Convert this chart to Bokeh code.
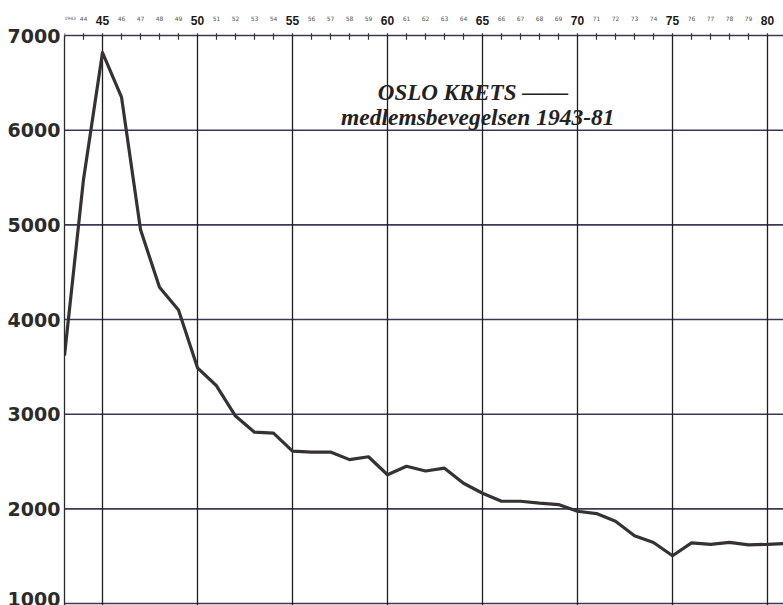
from bokeh.plotting import figure
from bokeh.models import Range1d, FixedTicker
from bokeh.core.properties import value
from bokeh.embed import file_html
from bokeh.resources import INLINE

# ---- data ----
years = list(range(1943, 1982))
members = [3620, 5480, 6820, 6350, 4950, 4340, 4100, 3490, 3300, 2980,
           2810, 2800, 2610, 2600, 2600, 2520, 2550, 2360, 2450, 2400,
           2430, 2270, 2165, 2080, 2080, 2060, 2045, 1975, 1950, 1870,
           1715, 1645, 1505, 1640, 1625, 1645, 1620, 1625, 1635]

major_years = [1945, 1950, 1955, 1960, 1965, 1970, 1975, 1980]
major_labels = ["45", "50", "55", "60", "65", "70", "75", "80"]
minor_years = [y for y in years if y not in major_years]
minor_labels = ["1943"] + [str(y)[2:] for y in minor_years[1:]]

y_ticks = [1000, 2000, 3000, 4000, 5000, 6000, 7000]
h_lines = [1000, 2000, 3000, 4000, 5000, 6000]

title_1 = "OSLO KRETS ——"
title_2 = "medlemsbevegelsen 1943-81"

# ---- layout constants ----
X0, X1 = 1943, 1980.842
Y0, Y1 = 979, 7370
TOP = 7000

p = figure(width=783, height=605, x_range=Range1d(X0, X1), y_range=Range1d(Y0, Y1),
           output_backend="svg", toolbar_location=None,
           x_axis_location=None, y_axis_location="left",
           min_border_left=64, min_border_right=0, min_border_top=0, min_border_bottom=0)
p.outline_line_color = None
p.grid.visible = False
p.background_fill_color = "white"

# left axis
ya = p.yaxis[0]
ya.ticker = FixedTicker(ticks=y_ticks)
ya.bounds = (Y0, TOP)
ya.axis_line_color = "#2a2a2a"
ya.axis_line_width = 1.3
ya.major_tick_out = 0
ya.major_tick_in = 0
ya.minor_tick_out = 0
ya.minor_tick_in = 0
ya.major_label_standoff = 4
ya.major_label_text_font = "DejaVu Sans"
ya.major_label_text_font_style = "bold"
ya.major_label_text_font_size = "19px"
ya.major_label_text_color = "#2b2b2b"

# horizontal grid lines
p.segment(x0=[X0] * len(h_lines), y0=h_lines, x1=[X1] * len(h_lines), y1=h_lines,
          line_color="#3b3855", line_width=1.6)
# top axis line
p.segment(x0=[X0], y0=[TOP], x1=[X1], y1=[TOP], line_color="#3b3855", line_width=1.6)

# vertical lines at every fifth year
p.segment(x0=major_years, y0=[Y0] * len(major_years), x1=major_years, y1=[TOP] * len(major_years),
          line_color="#1e1e1e", line_width=1.3)

# small year ticks on top axis
p.segment(x0=minor_years, y0=[TOP + 25] * len(minor_years), x1=minor_years,
          y1=[TOP - 45] * len(minor_years), line_color="#333333", line_width=1.2)
p.segment(x0=major_years, y0=[TOP + 25] * len(major_years), x1=major_years,
          y1=[TOP] * len(major_years), line_color="#333333", line_width=1.2)

# top labels (first one left-aligned so it stays inside the drawing area)
p.text(x=minor_years[:1], y=[TOP + 180], text=minor_labels[:1],
       text_font=value("DejaVu Sans"), text_font_size="4.5px", text_color="#555555",
       text_align="left", text_baseline="alphabetic")
p.text(x=minor_years[1:], y=[TOP + 180] * (len(minor_years) - 1), text=minor_labels[1:],
       text_font=value("DejaVu Sans"), text_font_size="6px", text_color="#555555",
       text_align="center", text_baseline="alphabetic")
p.text(x=major_years, y=[TOP + 160] * len(major_years), text=major_labels,
       text_font=value("Liberation Sans"), text_font_style="bold", text_font_size="12px",
       text_color="#1a1a1a", text_align="center", text_baseline="alphabetic")

# data line
p.line(years, members, line_color="#363232", line_width=3.2, line_join="round")

# title
p.text(x=[1964.5], y=[6398], text=[title_1], text_font=value("Liberation Serif"),
       text_font_style="bold italic", text_font_size="23px", text_color="#222222",
       text_align="center", text_baseline="alphabetic")
p.text(x=[1964.75], y=[6140], text=[title_2], text_font=value("Liberation Serif"),
       text_font_style="bold italic", text_font_size="23.5px", text_color="#222222",
       text_align="center", text_baseline="alphabetic")

open("out.html", "w").write(file_html(p, INLINE))
